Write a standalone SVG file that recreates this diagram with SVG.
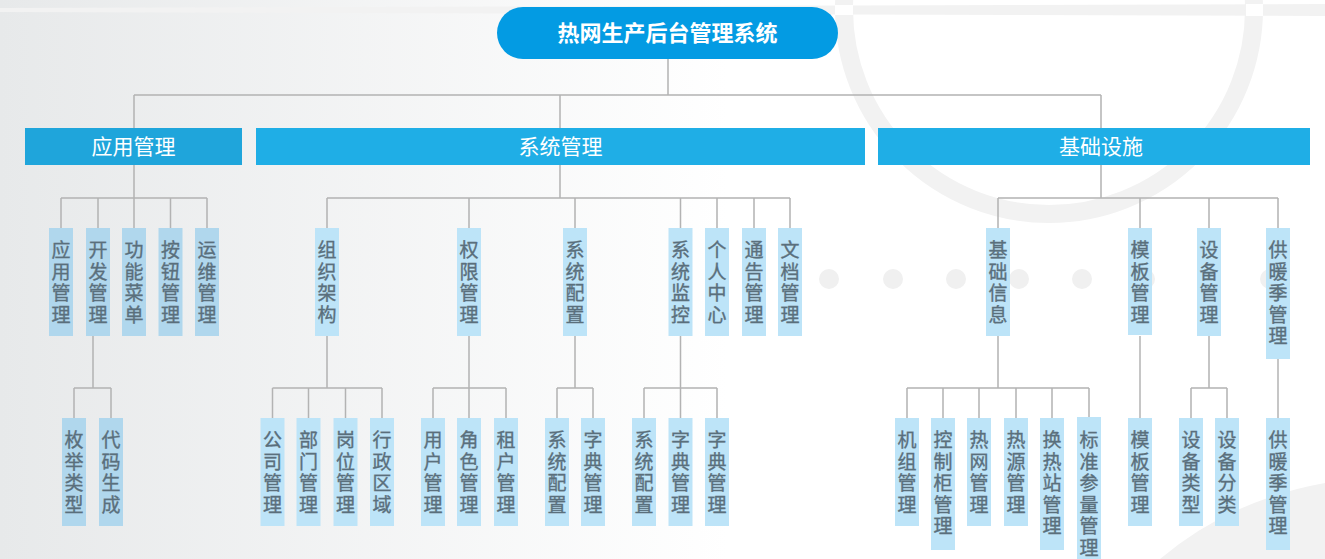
<svg xmlns="http://www.w3.org/2000/svg" width="1325" height="559" viewBox="0 0 1325 559">
<defs>
<linearGradient id="bg" x1="0" y1="0" x2="1325" y2="0" gradientUnits="userSpaceOnUse">
<stop offset="0" stop-color="#e7e9ea"/>
<stop offset="0.55" stop-color="#ffffff"/>
<stop offset="1" stop-color="#ffffff"/>
</linearGradient>
</defs>
<style>
.cjk{font-family:"Noto Sans CJK SC","Noto Sans",sans-serif}
.root-t{font-size:22px;font-weight:bold;fill:#ffffff}
.bar{fill:#1faee6}
.bar-t{font-size:21px;fill:#ffffff}
.leaf{fill:#bde4f8}
.leafL{fill:#b0d7ed}
.leaf-t{font-size:19px;fill:#5a6f7c;stroke:#5a6f7c;stroke-width:0.35;writing-mode:vertical-rl;letter-spacing:2.5px}
.conn{fill:none;stroke:#b3b3b3;stroke-width:1.5}
.deco{fill:#f2f2f2}
</style>
<rect width="1325" height="559" fill="url(#bg)"/>
<g id="decoration">
<polygon class="deco" points="0,8 1325,4 1325,16 0,12"/>
<circle cx="1049" cy="9" r="205" fill="none" stroke="#f2f2f2" stroke-width="18"/>
<rect x="835" y="5" width="18" height="10" fill="#ffffff"/>
<rect x="1246" y="4" width="17" height="12" fill="#ffffff"/>
<path class="deco" d="M1160,559 Q1230,500 1325,483 L1325,559 Z"/>
<g fill="#f0f0f0">
<circle cx="829" cy="279" r="10"/><circle cx="893" cy="279" r="10"/><circle cx="956" cy="279" r="10"/><circle cx="1019" cy="279" r="10"/><circle cx="1082" cy="279" r="10"/><circle cx="1145" cy="279" r="10"/><circle cx="1208" cy="279" r="10"/><circle cx="1270" cy="279" r="10"/>
</g>
</g>
<g id="connectors">
<path class="conn" d="M668,59V95M134,95H1101M134,95V128M560,95V128M1101,95V128"/>
<path class="conn" d="M134,165V198M61,198H207M61,198V228M98,198V228M134,198V228M170.5,198V228M207,198V228"/>
<path class="conn" d="M560,165V198M327,198H790M327,198V228M469,198V228M575,198V228M680.5,198V228M717,198V228M754,198V228M790,198V228"/>
<path class="conn" d="M1101,165V198M998,198H1278M998,198V228M1140,198V228M1209,198V228M1278,198V228"/>
<path class="conn" d="M93,336V388M74,388H111M74,388V418M111,388V418"/>
<path class="conn" d="M327,336V388M272.5,388H382M272.5,388V418M308.5,388V418M345.5,388V418M382,388V418"/>
<path class="conn" d="M469,336V388M433,388H506M433,388V418M469,388V418M506,388V418"/>
<path class="conn" d="M575,336V388M557,388H593M557,388V418M593,388V418"/>
<path class="conn" d="M680.5,336V388M644,388H717M644,388V418M680.5,388V418M717,388V418"/>
<path class="conn" d="M998,336V388M907,388H1089M907,388V418M943,388V418M979,388V418M1016,388V418M1052,388V418M1089,388V417"/>
<path class="conn" d="M1140,336V418"/>
<path class="conn" d="M1209,336V388M1191,388H1227M1191,388V418M1227,388V418"/>
<path class="conn" d="M1278,359V418"/>
</g>
<g id="root">
<rect x="497" y="7" width="341" height="52" rx="26" fill="#039be3"/>
<text class="cjk root-t" x="667.5" y="41" text-anchor="middle">热网生产后台管理系统</text>
</g>
<g id="yyglbar">
<rect x="25" y="128" width="217" height="37" fill="#1fa5db"/>
<text class="cjk bar-t" x="133.5" y="154" text-anchor="middle">应用管理</text>
</g>
<g id="xtglbar">
<rect class="bar" x="256" y="128" width="609" height="37"/>
<text class="cjk bar-t" x="560.5" y="154" text-anchor="middle">系统管理</text>
</g>
<g id="jcssbar">
<rect class="bar" x="878" y="128" width="432" height="37"/>
<text class="cjk bar-t" x="1101" y="154" text-anchor="middle">基础设施</text>
</g>
<!-- level 2 -->
<g id="n-yygl"><rect class="leafL" x="49" y="228" width="24" height="108"/><text class="cjk leaf-t" x="61" y="240.5">应用管理</text></g>
<g id="n-kfgl"><rect class="leafL" x="86" y="228" width="24" height="108"/><text class="cjk leaf-t" x="98" y="240.5">开发管理</text></g>
<g id="n-gncd"><rect class="leafL" x="122" y="228" width="24" height="108"/><text class="cjk leaf-t" x="134" y="240.5">功能菜单</text></g>
<g id="n-angl"><rect class="leafL" x="158.5" y="228" width="24" height="108"/><text class="cjk leaf-t" x="170.5" y="240.5">按钮管理</text></g>
<g id="n-ywgl"><rect class="leafL" x="195" y="228" width="24" height="108"/><text class="cjk leaf-t" x="207" y="240.5">运维管理</text></g>
<g id="n-zzjg"><rect class="leaf" x="315" y="228" width="24" height="108"/><text class="cjk leaf-t" x="327" y="240.5">组织架构</text></g>
<g id="n-qxgl"><rect class="leaf" x="457" y="228" width="24" height="108"/><text class="cjk leaf-t" x="469" y="240.5">权限管理</text></g>
<g id="n-xtpz"><rect class="leaf" x="563" y="228" width="24" height="108"/><text class="cjk leaf-t" x="575" y="240.5">系统配置</text></g>
<g id="n-xtjk"><rect class="leaf" x="668.5" y="228" width="24" height="108"/><text class="cjk leaf-t" x="680.5" y="240.5">系统监控</text></g>
<g id="n-grzx"><rect class="leaf" x="705" y="228" width="24" height="108"/><text class="cjk leaf-t" x="717" y="240.5">个人中心</text></g>
<g id="n-tggl"><rect class="leaf" x="742" y="228" width="24" height="108"/><text class="cjk leaf-t" x="754" y="240.5">通告管理</text></g>
<g id="n-wdgl"><rect class="leaf" x="778" y="228" width="24" height="108"/><text class="cjk leaf-t" x="790" y="240.5">文档管理</text></g>
<g id="n-jcxx"><rect class="leaf" x="986" y="228" width="24" height="108"/><text class="cjk leaf-t" x="998" y="240.5">基础信息</text></g>
<g id="n-mbgl"><rect class="leaf" x="1128" y="228" width="24" height="107"/><text class="cjk leaf-t" x="1140" y="240.5">模板管理</text></g>
<g id="n-sbgl"><rect class="leaf" x="1197" y="228" width="24" height="108"/><text class="cjk leaf-t" x="1209" y="240.5">设备管理</text></g>
<g id="n-gnjgl"><rect class="leaf" x="1266" y="228" width="24" height="131"/><text class="cjk leaf-t" x="1278" y="240.5">供暖季管理</text></g>
<!-- level 3 -->
<g id="n-mjlx"><rect class="leafL" x="62" y="418" width="24" height="108"/><text class="cjk leaf-t" x="74" y="430.5">枚举类型</text></g>
<g id="n-dmsc"><rect class="leafL" x="99" y="418" width="24" height="108"/><text class="cjk leaf-t" x="111" y="430.5">代码生成</text></g>
<g id="n-gsgl"><rect class="leaf" x="260.5" y="418" width="24" height="108"/><text class="cjk leaf-t" x="272.5" y="430.5">公司管理</text></g>
<g id="n-bmgl"><rect class="leaf" x="296.5" y="418" width="24" height="108"/><text class="cjk leaf-t" x="308.5" y="430.5">部门管理</text></g>
<g id="n-gwgl"><rect class="leaf" x="333.5" y="418" width="24" height="108"/><text class="cjk leaf-t" x="345.5" y="430.5">岗位管理</text></g>
<g id="n-xzqy"><rect class="leaf" x="370" y="418" width="24" height="108"/><text class="cjk leaf-t" x="382" y="430.5">行政区域</text></g>
<g id="n-yhgl"><rect class="leaf" x="421" y="418" width="24" height="108"/><text class="cjk leaf-t" x="433" y="430.5">用户管理</text></g>
<g id="n-jsgl"><rect class="leaf" x="457" y="418" width="24" height="108"/><text class="cjk leaf-t" x="469" y="430.5">角色管理</text></g>
<g id="n-zhgl"><rect class="leaf" x="494" y="418" width="24" height="108"/><text class="cjk leaf-t" x="506" y="430.5">租户管理</text></g>
<g id="n-xtpz2"><rect class="leaf" x="545" y="418" width="24" height="108"/><text class="cjk leaf-t" x="557" y="430.5">系统配置</text></g>
<g id="n-zdgl"><rect class="leaf" x="581" y="418" width="24" height="108"/><text class="cjk leaf-t" x="593" y="430.5">字典管理</text></g>
<g id="n-xtpz3"><rect class="leaf" x="632" y="418" width="24" height="108"/><text class="cjk leaf-t" x="644" y="430.5">系统配置</text></g>
<g id="n-zdgl2"><rect class="leaf" x="668.5" y="418" width="24" height="108"/><text class="cjk leaf-t" x="680.5" y="430.5">字典管理</text></g>
<g id="n-zdgl3"><rect class="leaf" x="705" y="418" width="24" height="108"/><text class="cjk leaf-t" x="717" y="430.5">字典管理</text></g>
<g id="n-jzgl"><rect class="leaf" x="895" y="418" width="24" height="108"/><text class="cjk leaf-t" x="907" y="430.5">机组管理</text></g>
<g id="n-kzggl"><rect class="leaf" x="931" y="418" width="24" height="132"/><text class="cjk leaf-t" x="943" y="430.5">控制柜管理</text></g>
<g id="n-rwgl"><rect class="leaf" x="967" y="418" width="24" height="108"/><text class="cjk leaf-t" x="979" y="430.5">热网管理</text></g>
<g id="n-rygl"><rect class="leaf" x="1004" y="418" width="24" height="108"/><text class="cjk leaf-t" x="1016" y="430.5">热源管理</text></g>
<g id="n-hrzgl"><rect class="leaf" x="1040" y="418" width="24" height="132"/><text class="cjk leaf-t" x="1052" y="430.5">换热站管理</text></g>
<g id="n-bzclgl"><rect class="leaf" x="1077" y="417" width="24" height="155"/><text class="cjk leaf-t" x="1089" y="430.5">标准参量管理</text></g>
<g id="n-mbgl2"><rect class="leaf" x="1128" y="418" width="24" height="108"/><text class="cjk leaf-t" x="1140" y="430.5">模板管理</text></g>
<g id="n-sblx"><rect class="leaf" x="1179" y="418" width="24" height="108"/><text class="cjk leaf-t" x="1191" y="430.5">设备类型</text></g>
<g id="n-sbfl"><rect class="leaf" x="1215" y="418" width="24" height="108"/><text class="cjk leaf-t" x="1227" y="430.5">设备分类</text></g>
<g id="n-gnjgl2"><rect class="leaf" x="1266" y="418" width="24" height="132"/><text class="cjk leaf-t" x="1278" y="430.5">供暖季管理</text></g>
</svg>
